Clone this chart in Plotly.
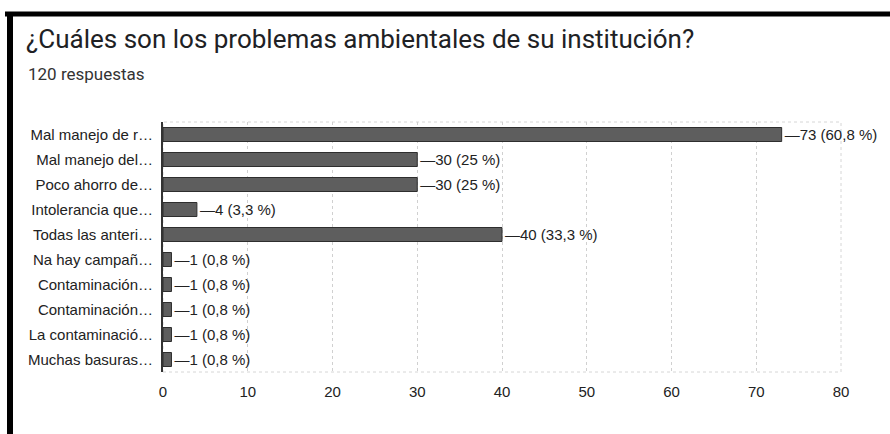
import plotly.graph_objects as go

categories = [
    "Mal manejo de r…",
    "Mal manejo del…",
    "Poco ahorro de…",
    "Intolerancia que…",
    "Todas las anteri…",
    "Na hay campañ…",
    "Contaminación…",
    "Contaminación…",
    "La contaminació…",
    "Muchas basuras…",
]
values = [73, 30, 30, 4, 40, 1, 1, 1, 1, 1]
total_responses = 120
x_ticks = [0, 10, 20, 30, 40, 50, 60, 70, 80]

title_text = "¿Cuáles son los problemas ambientales de su institución?"
subtitle_text = f"{total_responses} respuestas"

labels = []
for v in values:
    pct = round(v / total_responses * 100, 1)
    s = f"{pct:.1f}".rstrip("0").rstrip(".").replace(".", ",")
    labels.append(f"—{v} ({s} %)")

positions = list(range(len(categories)))

W, H = 890, 434
L, R, T, B = 163, 49, 122, 62
pw, ph = W - L - R, H - T - B

def px(x):
    return (x - L) / pw

def py(y):
    return (H - B - y) / ph

LABEL_FONT = "Liberation Sans, Arial"

fig = go.Figure(go.Bar(
    x=values,
    y=positions,
    orientation="h",
    width=0.56,
    marker=dict(color="#5e5e5e", line=dict(color="#2e2e2e", width=1)),
    text=labels,
    textposition="outside",
    constraintext="none",
    textfont=dict(family=LABEL_FONT, size=15, color="#222222"),
    cliponaxis=False,
    hoverinfo="skip",
))

shapes = [
    dict(type="rect", xref="paper", yref="paper", x0=0, x1=1, y0=0, y1=1,
         line=dict(color="#d6d6d6", width=1, dash="dot"), layer="below"),
    dict(type="line", xref="paper", yref="paper", x0=px(5), x1=px(892), y0=py(14), y1=py(14),
         line=dict(color="black", width=5)),
    dict(type="line", xref="paper", yref="paper", x0=px(10), x1=px(10), y0=py(12), y1=py(440),
         line=dict(color="black", width=6)),
]

fig.update_layout(
    width=W, height=H,
    margin=dict(l=L, r=R, t=T, b=B),
    paper_bgcolor="white",
    plot_bgcolor="white",
    showlegend=False,
    bargap=0.44,
    title=dict(
        text=title_text,
        font=dict(family="Roboto", size=26, color="#202124"),
        xref="container", x=26 / W, xanchor="left",
        yref="container", y=1 - 39 / H, yanchor="middle",
    ),
    annotations=[
        dict(text=subtitle_text, xref="paper", yref="paper", x=px(26), y=py(74),
             xanchor="left", yanchor="middle", showarrow=False,
             font=dict(family="Roboto", size=17, color="#333333")),
    ],
    shapes=shapes,
    xaxis=dict(
        range=[0, 80],
        tickvals=x_ticks,
        ticktext=[str(t) for t in x_ticks],
        showgrid=True, gridcolor="#d0d0d0", griddash="dot", gridwidth=1,
        zeroline=False, showline=False,
        tickfont=dict(family=LABEL_FONT, size=15, color="#222222"),
        ticks="", ticklen=0, ticklabelstandoff=9,
        fixedrange=True,
    ),
    yaxis=dict(
        range=[len(categories) - 0.5, -0.5],
        tickvals=positions,
        ticktext=categories,
        showgrid=False, zeroline=False,
        showline=True, linecolor="#333333", linewidth=2,
        tickfont=dict(family=LABEL_FONT, size=15, color="#222222"),
        ticks="", ticklabelstandoff=5,
        fixedrange=True,
    ),
)

fig.write_html("out.html", config={"displayModeBar": False},
               post_script="document.body.style.margin='0';")
